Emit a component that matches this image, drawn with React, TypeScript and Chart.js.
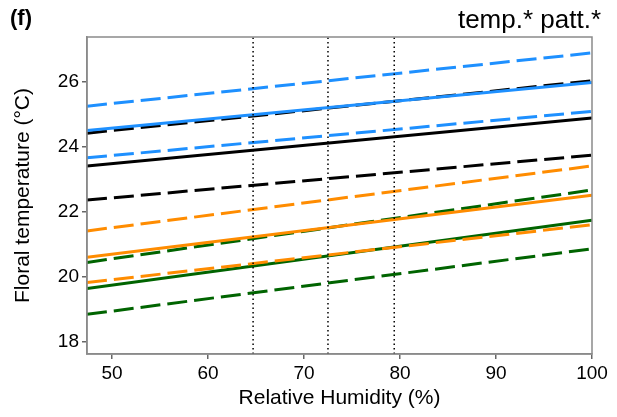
import React, { useEffect, useRef } from "react";
import { Chart, registerables } from "chart.js";

Chart.register(...registerables);

// ---- data ----
const rhEnds = [47.4, 100];
const blueUpper = [25.25, 26.89];
const blueMid = [24.5, 25.98];
const blueLower = [23.66, 25.09];
const blackUpper = [24.42, 26.03];
const blackMid = [23.41, 24.89];
const blackLower = [22.36, 23.74];
const orangeUpper = [21.41, 23.41];
const orangeMid = [20.6, 22.51];
const orangeLower = [19.82, 21.6];
const greenUpper = [20.44, 22.67];
const greenMid = [19.64, 21.74];
const greenLower = [18.84, 20.86];
const dottedX = [64.7, 72.5, 79.4];
const xTicks = [50, 60, 70, 80, 90, 100];
const yTicks = [18, 20, 22, 24, 26];

const X_MIN = 47.4;
const X_MAX = 100;
const Y_MIN = 17.62;
const Y_MAX = 27.38;

const FONT = "'Liberation Sans', Arial, Helvetica, sans-serif";

const BLUE = "#1E90FF";
const BLACK = "#000000";
const ORANGE = "#FF8C00";
const GREEN = "#006400";

const DASH = [20, 7];

function line(vals: number[], color: string, dashed: boolean) {
  return {
    data: rhEnds.map((x, i) => ({ x, y: vals[i] })),
    borderColor: color,
    backgroundColor: color,
    borderWidth: 3,
    borderDash: dashed ? DASH : [],
    pointRadius: 0,
    fill: false,
    tension: 0,
  };
}

const framePlugin = {
  id: "frame",
  afterDatasetsDraw(chart: any) {
    const { ctx, chartArea } = chart;
    ctx.save();
    ctx.strokeStyle = "#8a8a8a";
    ctx.lineWidth = 1.5;
    ctx.strokeRect(chartArea.left, chartArea.top, chartArea.right - chartArea.left, chartArea.bottom - chartArea.top);
    ctx.restore();
  },
  afterDraw(chart: any) {
    const { ctx } = chart;
    ctx.save();
    ctx.fillStyle = "#000";
    ctx.textBaseline = "alphabetic";
    ctx.font = `bold 22px ${FONT}`;
    ctx.textAlign = "left";
    ctx.fillText("(f)", 10, 25);
    ctx.font = `26px ${FONT}`;
    ctx.textAlign = "right";
    ctx.fillText("temp.* patt.*", 601, 28);
    ctx.restore();
  },
};

export default function App() {
  const ref = useRef<HTMLCanvasElement>(null);

  useEffect(() => {
    document.body.style.margin = "0";
    const canvas = ref.current;
    if (!canvas) return;

    const datasets: any[] = [];
    dottedX.forEach((x) => {
      datasets.push({
        data: [
          { x, y: Y_MIN },
          { x, y: Y_MAX },
        ],
        borderColor: "#000",
        borderWidth: 1.5,
        borderDash: [1.5, 3],
        pointRadius: 0,
        fill: false,
      });
    });
    datasets.push(line(blueUpper, BLUE, true));
    datasets.push(line(blueMid, BLUE, false));
    datasets.push(line(blueLower, BLUE, true));
    datasets.push(line(blackUpper, BLACK, true));
    datasets.push(line(blackMid, BLACK, false));
    datasets.push(line(blackLower, BLACK, true));
    datasets.push(line(orangeUpper, ORANGE, true));
    datasets.push(line(orangeMid, ORANGE, false));
    datasets.push(line(orangeLower, ORANGE, true));
    datasets.push(line(greenUpper, GREEN, true));
    datasets.push(line(greenMid, GREEN, false));
    datasets.push(line(greenLower, GREEN, true));

    const chart = new Chart(canvas, {
      type: "line",
      data: { datasets },
      plugins: [framePlugin],
      options: {
        responsive: false,
        animation: false,
        devicePixelRatio: 1,
        layout: { padding: { left: 0, right: 25, top: 37, bottom: 0 } },
        plugins: {
          legend: { display: false },
          tooltip: { enabled: false },
          title: { display: false },
        },
        scales: {
          x: {
            type: "linear",
            min: X_MIN,
            max: X_MAX,
            afterBuildTicks: (scale: any) => {
              scale.ticks = xTicks.map((v) => ({ value: v }));
            },
            afterFit: (scale: any) => {
              scale.height = 63;
            },
            grid: {
              display: true,
              drawOnChartArea: false,
              drawTicks: true,
              tickLength: 5,
              color: "#666",
              lineWidth: 1.5,
            },
            border: { display: true, color: "#8a8a8a", width: 1.5 },
            ticks: {
              color: "#000",
              padding: 3,
              maxRotation: 0,
              autoSkip: false,
              font: { family: FONT, size: 19 },
            },
            title: {
              display: true,
              text: "Relative Humidity (%)",
              color: "#000",
              font: { family: FONT, size: 21 },
              padding: { top: 0, bottom: 6 },
            },
          },
          y: {
            type: "linear",
            min: Y_MIN,
            max: Y_MAX,
            afterBuildTicks: (scale: any) => {
              scale.ticks = yTicks.map((v) => ({ value: v }));
            },
            afterFit: (scale: any) => {
              scale.width = 87;
            },
            grid: {
              display: true,
              drawOnChartArea: false,
              drawTicks: true,
              tickLength: 5,
              color: "#666",
              lineWidth: 1.5,
            },
            border: { display: true, color: "#8a8a8a", width: 1.5 },
            ticks: {
              color: "#000",
              padding: 3,
              autoSkip: false,
              font: { family: FONT, size: 19 },
            },
            title: {
              display: true,
              text: "Floral temperature (°C)",
              color: "#000",
              font: { family: FONT, size: 21 },
              padding: { top: 11, bottom: 0 },
            },
          },
        },
      },
    });

    return () => chart.destroy();
  }, []);

  return <canvas ref={ref} width={617} height={417} style={{ display: "block" }} />;
}
